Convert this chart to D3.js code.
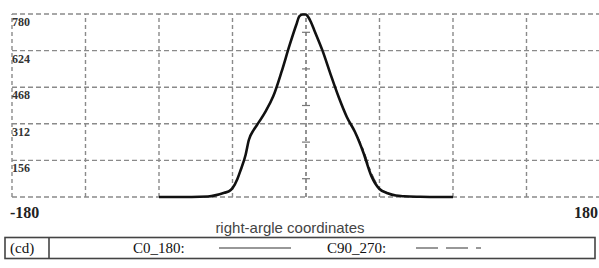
<!DOCTYPE html>
<html><head><meta charset="utf-8">
<script src="https://cdn.jsdelivr.net/npm/d3@7"></script>
<style>html,body{margin:0;padding:0;background:#fff;}svg{display:block;}</style>
</head><body>
<script>
const angles = [-90,-80,-70,-60,-55,-50,-47,-45,-42,-40,-37,-35,-32,-30,-25,-20,-15,-10,-6,-4,-2,0,1,3,5,10,15,20,25,30,35,40,45,50,55,60,70,80,90];
const c0_180 = [0,0,0,2,8,18,25,38,77,115,179,243,286,307,362,430,533,648,733,771,778,778,771,746,712,626,524,426,341,277,192,90,34,16,6,3,1,0,0];
const c90_270 = [0,0,0,2,8,18,25,38,77,115,179,243,286,307,362,430,533,648,733,771,778,778,771,746,712,626,524,426,341,280,205,105,40,18,7,3,1,0,0];
const xTicks = [-180,-135,-90,-45,0,45,90,135,180];
const yTicks = [0,156,312,468,624,780];
const yLabels = ["780","624","468","312","156"];

const W=599,H=268;
const svg=d3.select("body").append("svg").attr("width",W).attr("height",H);
const x=d3.scaleLinear().domain([-180,180]).range([12,600]);
const y=d3.scaleLinear().domain([0,780]).range([197,14]);

const grid=svg.append("g");
grid.selectAll("line.h").data(yTicks).join("line")
  .attr("x1",x(-180)).attr("x2",x(180)).attr("y1",d=>y(d)).attr("y2",d=>y(d))
  .attr("stroke","#8a8a8a").attr("stroke-width",1.4).attr("stroke-dasharray","5,3");
grid.selectAll("line.v").data(xTicks).join("line")
  .attr("y1",y(0)).attr("y2",y(780)).attr("x1",d=>x(d)).attr("x2",d=>x(d))
  .attr("stroke",d=>d===0?"#666":"#8a8a8a").attr("stroke-width",1.4).attr("stroke-dasharray","4,3");
// minor ticks on central axis
const minor=d3.range(78,780,156);
grid.selectAll("line.m").data(minor).join("line")
  .attr("x1",x(0)-4).attr("x2",x(0)+4).attr("y1",d=>y(d)).attr("y2",d=>y(d))
  .attr("stroke","#777").attr("stroke-width",1.2);

svg.selectAll("text.yl").data(yLabels).join("text")
  .attr("x",12).attr("y",d=>y(+d)+12)
  .attr("font-family","Liberation Serif").attr("font-size",12).attr("font-weight","bold")
  .attr("fill","#333").text(d=>d);

const line=d3.line().x((d,i)=>x(angles[i])).y(d=>y(d)).curve(d3.curveMonotoneX);
svg.append("path").attr("d",line(c90_270)).attr("fill","none")
  .attr("stroke","#555").attr("stroke-width",1).attr("stroke-dasharray","10,4,3,4");
svg.append("path").attr("d",line(c0_180)).attr("fill","none")
  .attr("stroke","#111").attr("stroke-width",2.6).attr("stroke-linejoin","round");

svg.append("text").attr("x",10).attr("y",218).attr("font-family","Liberation Serif")
  .attr("font-size",16).attr("font-weight","bold").attr("fill","#222").text("-180");
svg.append("text").attr("x",598).attr("y",218).attr("text-anchor","end").attr("font-family","Liberation Serif")
  .attr("font-size",16).attr("font-weight","bold").attr("fill","#222").text("180");
svg.append("text").attr("x",290).attr("y",233).attr("text-anchor","middle").attr("font-family","Liberation Sans")
  .attr("font-size",15).attr("fill","#444").text("right-argle coordinates");

// legend
const lg=svg.append("g");
lg.append("rect").attr("x",5).attr("y",237.5).attr("width",590).attr("height",21)
  .attr("fill","#fff").attr("stroke","#444").attr("stroke-width",1.6);
lg.append("line").attr("x1",49).attr("x2",49).attr("y1",237.5).attr("y2",258.5).attr("stroke","#444").attr("stroke-width",1.6);
const lf={"font-family":"Liberation Serif","font-size":15,"fill":"#111"};
function t(xx,s){const e=lg.append("text").attr("x",xx).attr("y",253).text(s);for(const k in lf)e.attr(k,lf[k]);}
t(10,"(cd)");t(133,"C0_180:");t(327,"C90_270:");
lg.append("line").attr("x1",219).attr("x2",291).attr("y1",248).attr("y2",248).attr("stroke","#333").attr("stroke-width",1.2);
lg.append("line").attr("x1",416).attr("x2",486).attr("y1",248).attr("y2",248).attr("stroke","#333").attr("stroke-width",1.2).attr("stroke-dasharray","22,8,22,8,5,100");
</script>
</body></html>
